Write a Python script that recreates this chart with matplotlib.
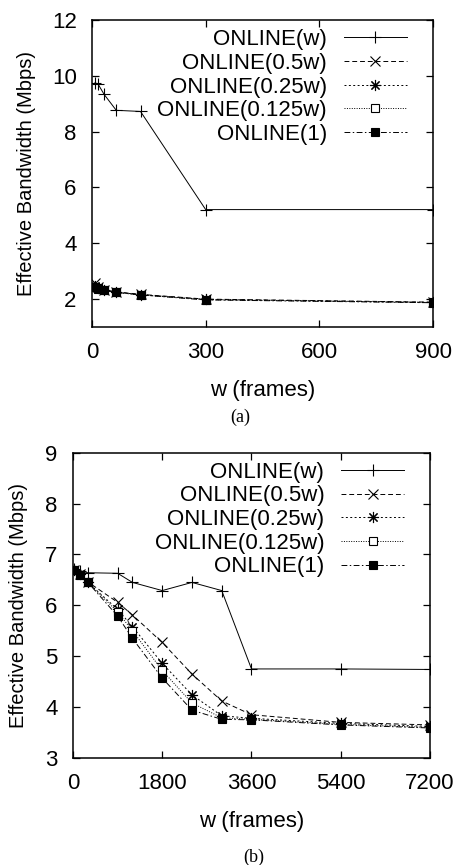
import matplotlib
matplotlib.use("Agg")
import matplotlib.pyplot as plt

plt.rcParams['font.family'] = ['Liberation Sans', 'DejaVu Sans']

# ---- data, panel (a) ----
w_a = [8, 16, 32, 64, 128, 300, 900]
a_w = [9.75, 9.70, 9.33, 8.76, 8.72, 5.20, 5.20]
a_05w = [2.55, 2.42, 2.33, 2.25, 2.16, 1.99, 1.88]
a_025w = [2.45, 2.39, 2.31, 2.24, 2.15, 1.98, 1.87]
a_0125w = [2.43, 2.38, 2.30, 2.23, 2.14, 1.97, 1.87]
a_1 = [2.42, 2.37, 2.30, 2.23, 2.14, 1.96, 1.86]

# ---- data, panel (b) ----
w_b = [30, 150, 300, 900, 1200, 1800, 2400, 3000, 3600, 5400, 7200]
b_w = [6.72, 6.68, 6.64, 6.63, 6.45, 6.29, 6.45, 6.29, 4.75, 4.75, 4.74]
b_05w = [6.70, 6.62, 6.46, 6.06, 5.81, 5.27, 4.65, 4.12, 3.85, 3.70, 3.65]
b_025w = [6.70, 6.61, 6.45, 5.92, 5.58, 4.86, 4.24, 3.83, 3.78, 3.68, 3.62]
b_0125w = [6.69, 6.60, 6.45, 5.87, 5.50, 4.72, 4.08, 3.79, 3.76, 3.66, 3.60]
b_1 = [6.69, 6.60, 6.45, 5.79, 5.35, 4.57, 3.94, 3.76, 3.75, 3.65, 3.59]

labels = ["ONLINE(w)", "ONLINE(0.5w)", "ONLINE(0.25w)", "ONLINE(0.125w)", "ONLINE(1)"]

styles = [
    dict(linestyle='-', marker='+', ms=8, mew=0.8),
    dict(linestyle=(0, (5, 3)), marker='x', ms=7, mew=0.8),
    dict(linestyle=(0, (2, 2.5)), marker=(8, 2, 0), ms=8, mew=0.8),
    dict(linestyle=(0, (1, 1.5)), marker='s', ms=6, mew=0.8, mfc='white'),
    dict(linestyle=(0, (6, 2.5, 1.5, 2.5)), marker='s', ms=6, mew=0.8, mfc='black'),
]

FS = 16

fig = plt.figure(figsize=(4.56, 8.65), dpi=100)
ax1 = fig.add_axes([0.2018, 0.6223, 0.7478, 0.3546])
ax2 = fig.add_axes([0.1600, 0.1237, 0.7830, 0.3530])


def draw(ax, x, series, anchor):
    for ys, lab, st in zip(series, labels, styles):
        ax.plot(x, ys, color='black', lw=0.7, label=lab, **st)
    ax.legend(loc='upper right', bbox_to_anchor=anchor, frameon=False,
              markerfirst=False, fontsize=FS, handlelength=2.85,
              handletextpad=0.75, labelspacing=0.12, borderaxespad=0,
              borderpad=0)
    for sp in ax.spines.values():
        sp.set_linewidth(1.1)
    ax.tick_params(direction='in', top=True, right=True, length=5, width=0.9,
                   labelsize=FS)
    ax.tick_params(axis='x', pad=11)
    ax.tick_params(axis='y', pad=11)
    ax.set_xlabel("w (frames)", fontsize=FS, labelpad=12)
    ax.set_ylabel("Effective Bandwidth (Mbps)", fontsize=14.5)


draw(ax1, w_a, [a_w, a_05w, a_025w, a_0125w, a_1], (0.924, 0.97))
ax1.set_xlim(0, 900)
ax1.set_ylim(1, 12)
ax1.set_xticks([0, 300, 600, 900])
ax1.set_yticks([2, 4, 6, 8, 10, 12])
ax1.yaxis.set_label_coords(-0.164, 0.5)

draw(ax2, w_b, [b_w, b_05w, b_025w, b_0125w, b_1], (0.928, 0.97))
ax2.set_xlim(0, 7200)
ax2.set_ylim(3, 9)
ax2.set_xticks([0, 1800, 3600, 5400, 7200])
ax2.set_yticks([3, 4, 5, 6, 7, 8, 9])
ax2.yaxis.set_label_coords(-0.126, 0.5)

fig.text(240 / 456, 1 - 417 / 865, "(a)", ha='center', va='center',
         family='Liberation Serif', fontsize=13)
fig.text(254 / 456, 1 - 857 / 865, "(b)", ha='center', va='center',
         family='Liberation Serif', fontsize=13)

fig.savefig("out.png", dpi=100)
